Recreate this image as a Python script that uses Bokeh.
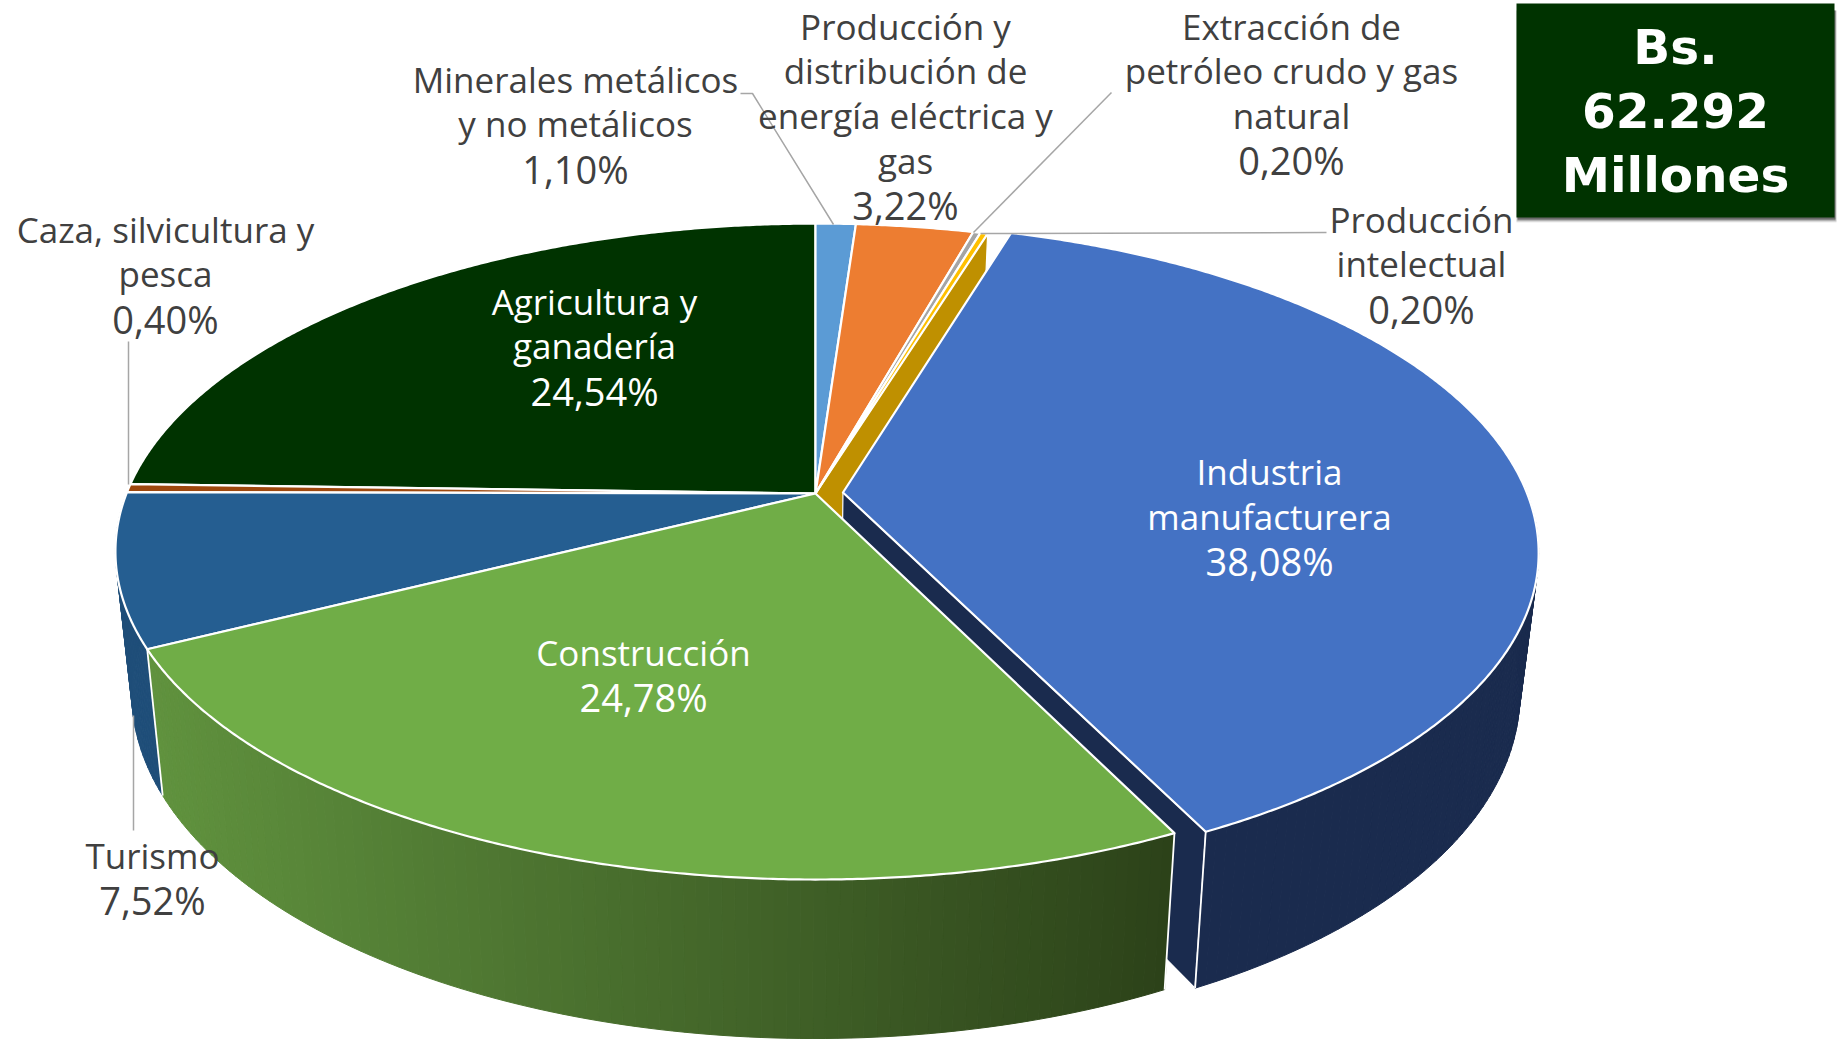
import math
from bokeh.plotting import figure
from bokeh.models import Range1d
from bokeh.core.properties import value
from bokeh.embed import file_html
from bokeh.resources import INLINE

# ---- data ----
sectors = ["Minerales metálicos y no metálicos", "Producción y distribución de energía eléctrica y gas",
           "Extracción de petróleo crudo y gas natural", "Producción intelectual", "Industria manufacturera",
           "Construcción", "Turismo", "Caza, silvicultura y pesca", "Agricultura y ganadería"]
shares = [1.10, 3.22, 0.20, 0.20, 38.08, 24.78, 7.52, 0.40, 24.54]
top_colors = ["#5B9BD5", "#ED7D31", "#A5A5A5", "#FFC000", "#4472C4", "#70AD47", "#255E91", "#9E480E", "#003300"]
explode = [0, 0, 0, 0, 0.04, 0, 0, 0, 0]
total_lines = ["Bs.", "62.292", "Millones"]

W, H = 1843, 1039
TOP = dict(cx=815, cy=493, A=689, B=317.7, k=0.177)
BOT = dict(cx=814, cy=631, A=672, B=335, k=0.177)
FONT = "Open Sans"
FS = "35px"
FS_PCT = "38px"

p = figure(width=W, height=H, x_range=Range1d(0, W), y_range=Range1d(H, 0), output_backend="svg",
           toolbar_location=None, min_border=0, outline_line_color=None, background_fill_color="white")
p.axis.visible = False
p.grid.visible = False


def proj(pl, X, Y):
    d = 1 - pl["k"] * Y
    return pl["cx"] + pl["A"] * X / d, pl["cy"] + pl["B"] * Y / d


def disc(pct, i):
    t = 2 * math.pi * pct / 100
    mid = 2 * math.pi * (cum[i] + shares[i] / 2) / 100
    e = explode[i]
    # the exploded slice sits a touch narrower sideways in the picture
    rx = 0.99 if e else 1.0
    ex = e * 1.075
    return rx * math.sin(t) + ex * math.sin(mid), -math.cos(t) - e * math.cos(mid)


def centre(i):
    mid = 2 * math.pi * (cum[i] + shares[i] / 2) / 100
    e = explode[i]
    return e * math.sin(mid), -e * math.cos(mid)


def arc(i, a=None, b=None, step=0.1):
    a = cum[i] if a is None else a
    b = cum[i] + shares[i] if b is None else b
    n = max(2, int(abs(b - a) / step) + 1)
    return [a + (b - a) * j / (n - 1) for j in range(n)]


cum = []
s = 0.0
for v in shares:
    cum.append(s)
    s += v
scale = 100 / s
shares = [v * scale for v in shares]
cum = [c * scale for c in cum]


def wall_flat(i, pct, color):
    """Radial cut wall of slice i at position pct."""
    a = proj(TOP, *centre(i))
    b = proj(TOP, *disc(pct, i))
    c = proj(BOT, *disc(pct, i))
    d = proj(BOT, *centre(i))
    p.patch([a[0], b[0], c[0], d[0]], [a[1], b[1], c[1], d[1]], fill_color=color,
            line_color="white", line_width=1.2)


def mix(c1, c2, f):
    return "#%02x%02x%02x" % tuple(round(c1[j] + (c2[j] - c1[j]) * f) for j in range(3))


def wall_round(i, a, b, c1, c2=None, step=0.25):
    c2 = c2 or c1
    ps = arc(i, a, b, step=step)
    for q0, q1 in zip(ps[:-1], ps[1:]):
        t0, t1 = proj(TOP, *disc(q0, i)), proj(TOP, *disc(q1, i))
        b0, b1 = proj(BOT, *disc(q0, i)), proj(BOT, *disc(q1, i))
        f = ((t0[0] + t1[0]) / 2 - X_L) / (X_R - X_L)
        col = mix(c1, c2, min(1, max(0, f)))
        p.patch([t0[0], t1[0], b1[0], b0[0]], [t0[1], t1[1], b1[1], b0[1]], fill_color=col,
                line_color=col, line_width=1)


IND, CON, TUR = 4, 5, 6
X_L = proj(TOP, *disc(cum[CON] + shares[CON], CON))[0]
X_R = proj(TOP, *disc(cum[CON], CON))[0]
NAVY = (0x1A, 0x2B, 0x4E)

# walls, back to front
wall_flat(3, cum[3] + shares[3], "#BF9000")
wall_flat(IND, cum[IND] + shares[IND], "#1A2B4E")
wall_round(IND, cum[IND] + 20, cum[IND] + shares[IND], NAVY)
wall_round(TUR, cum[TUR], cum[TUR] + shares[TUR], (0x1F, 0x4E, 0x79))
wall_round(CON, cum[CON], cum[CON] + shares[CON], (0x60, 0x92, 0x3E), (0x2C, 0x42, 0x19))


def edge(i, pct, width=1.8):
    t, b = proj(TOP, *disc(pct, i)), proj(BOT, *disc(pct, i))
    p.line([t[0], b[0]], [t[1], b[1]], line_color="white", line_width=width)


edge(CON, cum[CON] + shares[CON])
edge(CON, cum[CON])
edge(IND, cum[IND] + shares[IND])

# top faces
for i in [8, 7, 6, 0, 1, 2, 3, 5, 4]:
    c = proj(TOP, *centre(i))
    ps = arc(i)
    pts = [proj(TOP, *disc(q, i)) for q in ps]
    p.patch([c[0]] + [q[0] for q in pts], [c[1]] + [q[1] for q in pts], fill_color=top_colors[i],
            line_color="white", line_width=2.2, line_join="round")

# leader lines
LEADER = "#A6A6A6"
for xs, ys in [([740, 752, 833], [93, 93, 224]), ([1111, 973], [92, 232]), ([1326, 980], [232, 233]),
               ([128, 128], [341, 484]), ([133, 133], [715, 830])]:
    p.line(xs, ys, line_color=LEADER, line_width=1.5)

# labels
DARK = "#404040"
labels = [
    (575, ["Minerales metálicos", "y no metálicos", "1,10%"], 80, DARK),
    (905, ["Producción y", "distribución de", "energía eléctrica y", "gas", "3,22%"], 27, DARK),
    (1291, ["Extracción de", "petróleo crudo y gas", "natural", "0,20%"], 27, DARK),
    (1421, ["Producción", "intelectual", "0,20%"], 220, DARK),
    (165, ["Caza, silvicultura y", "pesca", "0,40%"], 230, DARK),
    (594, ["Agricultura y", "ganadería", "24,54%"], 302, "white"),
    (1269, ["Industria", "manufacturera", "38,08%"], 472.5, "white"),
    (643, ["Construcción", "24,78%"], 653.5, "white"),
    (152, ["Turismo", "7,52%"], 856, DARK),
]
for x, lines, y0, col in labels:
    ys = [y0 - 1.5 + 44.8 * j for j in range(len(lines))]
    p.text([x] * (len(lines) - 1), ys[:-1], text=lines[:-1], text_color=col,
           text_font=value(FONT), text_font_size=FS, text_align="center", text_baseline="middle")
    p.text([x], ys[-1:], text=lines[-1:], text_color=col,
           text_font=value(FONT), text_font_size=FS_PCT, text_align="center", text_baseline="middle")

# total box with a soft shadow below it
for off, alpha in [(5, 0.08), (4, 0.14), (3, 0.22), (2, 0.32)]:
    p.quad(left=[1516 + 2 - off // 2], right=[1834 + off // 2], top=[10], bottom=[217 + off], fill_color="#000000",
           fill_alpha=alpha, line_color=None)
p.quad(left=[1516], right=[1834], top=[3], bottom=[217], fill_color="#003300", line_color=None)
p.text([1675] * 3, [46, 110, 174], text=total_lines, text_color="white", text_font=value("DejaVu Sans"),
       text_font_style="bold", text_font_size="48.5px", text_align="center", text_baseline="middle")

open("out.html", "w").write(file_html(p, INLINE))
